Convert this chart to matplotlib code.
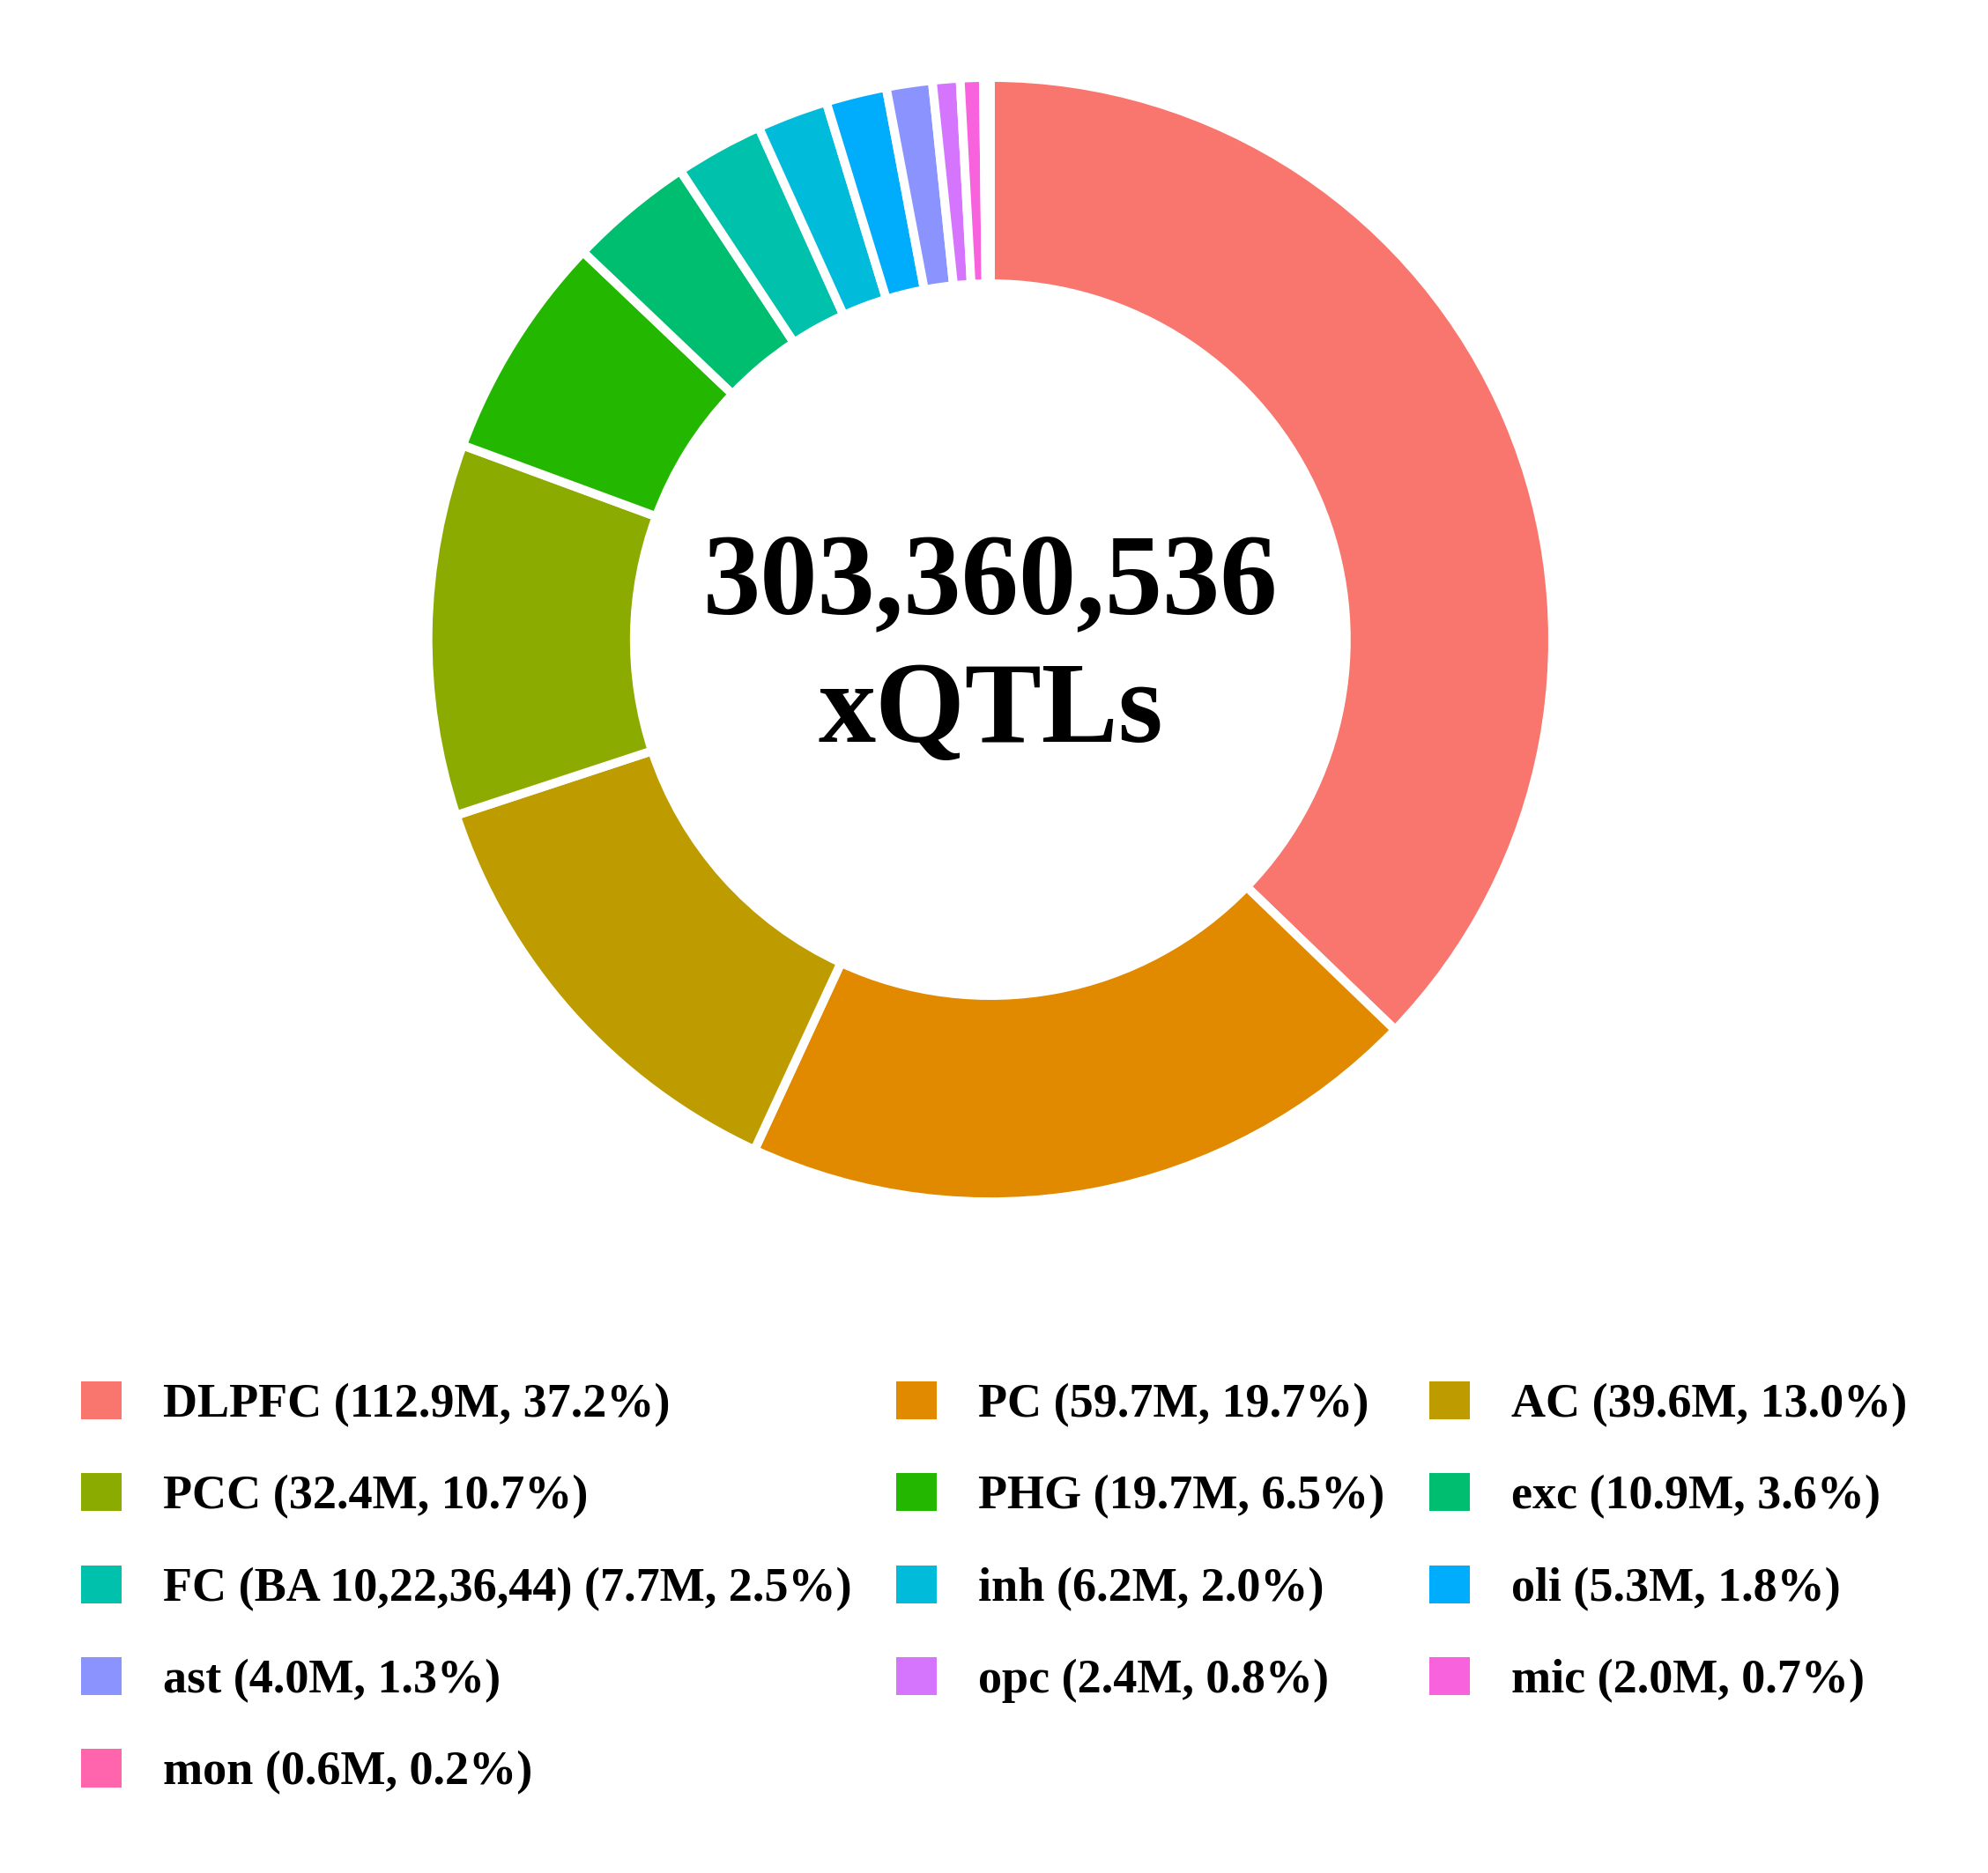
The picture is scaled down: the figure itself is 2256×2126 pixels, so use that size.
import matplotlib
matplotlib.use("Agg")
import matplotlib.pyplot as plt
from matplotlib.patches import Patch

# xQTL counts per context (millions), clockwise from the top
contexts = ['DLPFC', 'PC', 'AC', 'PCC', 'PHG', 'exc', 'FC (BA 10,22,36,44)',
            'inh', 'oli', 'ast', 'opc', 'mic', 'mon']
counts_m = [112.9, 59.7, 39.6, 32.4, 19.7, 10.9, 7.7, 6.2, 5.3, 4.0, 2.4, 2.0, 0.6]
percents = [37.2, 19.7, 13.0, 10.7, 6.5, 3.6, 2.5, 2.0, 1.8, 1.3, 0.8, 0.7, 0.2]
colors = ['#F8766D', '#E18A00', '#BE9C00', '#8CAB00', '#24B700', '#00BE70', '#00C1AB',
          '#00BBDA', '#00ACFC', '#8B93FF', '#D575FE', '#F962DD', '#FF65AC']
total_text = '303,360,536'

plt.rcParams['font.family'] = ['Liberation Serif', 'DejaVu Serif']
plt.rcParams['font.weight'] = 'bold'

fig = plt.figure(figsize=(11.28, 10.63), dpi=200)
ax = fig.add_axes([0.1870, 0.3283, 0.6223, 0.6604])

ax.pie(counts_m, colors=colors, startangle=90, counterclock=False, radius=1.0,
       wedgeprops=dict(width=0.367, edgecolor='white', linewidth=3.6))
ax.set_xlim(-1.1, 1.1)
ax.set_ylim(-1.1, 1.1)
ax.set_aspect('equal')
ax.axis('off')

ax.text(0, 0.047, total_text, ha='center', va='baseline', fontsize=47, fontweight='bold')
ax.text(0, -0.182, 'xQTLs', ha='center', va='baseline', fontsize=47, fontweight='bold')

labels = [f'{c} ({v}M, {p}%)' for c, v, p in zip(contexts, counts_m, percents)]
handles = [Patch(facecolor=col, edgecolor='none') for col in colors]

# ggplot fills the legend row by row; matplotlib goes column by column
order = [0, 3, 6, 9, 12, 1, 4, 7, 10, 2, 5, 8, 11]
fig.legend([handles[i] for i in order], [labels[i] for i in order],
           loc='upper left', bbox_to_anchor=(0.0408, 0.2625), ncol=3,
           frameon=False, borderpad=0, borderaxespad=0,
           handlelength=0.85, handleheight=0.85, handletextpad=0.87,
           labelspacing=0.96, columnspacing=0.93,
           prop=dict(family='Liberation Serif', weight='bold', size=19.5))

fig.savefig('out.png', dpi=200, facecolor='white')
